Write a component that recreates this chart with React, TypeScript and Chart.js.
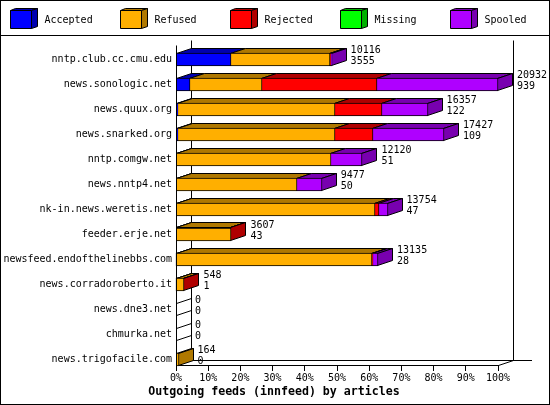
import { useEffect, useRef } from "react"
import { Chart, registerables, type Plugin } from "chart.js"

Chart.register(...registerables)

const feeds = [
  "nntp.club.cc.cmu.edu",
  "news.sonologic.net",
  "news.quux.org",
  "news.snarked.org",
  "nntp.comgw.net",
  "news.nntp4.net",
  "nk-in.news.weretis.net",
  "feeder.erje.net",
  "newsfeed.endofthelinebbs.com",
  "news.corradoroberto.it",
  "news.dne3.net",
  "chmurka.net",
  "news.trigofacile.com",
]

const accepted = [3555, 939, 122, 109, 51, 50, 47, 43, 28, 1, 0, 0, 0]
const refused = [6440, 4648, 10244, 10257, 10054, 7817, 12896, 3544, 12719, 527, 0, 0, 164]
const rejected = [61, 7487, 2998, 2410, 0, 0, 260, 20, 60, 20, 0, 0, 0]
const missing = [0, 0, 0, 0, 0, 0, 0, 0, 0, 0, 0, 0, 0]
const spooled = [60, 7858, 2993, 4651, 2015, 1610, 551, 0, 328, 0, 0, 0, 0]

const maxArticles = 20932
const percentTicks = [0, 10, 20, 30, 40, 50, 60, 70, 80, 90, 100]

const seriesNames = ["Accepted", "Refused", "Rejected", "Missing", "Spooled"]
const seriesValues = [accepted, refused, rejected, missing, spooled]
const frontColors = ["#0000ff", "#ffaf00", "#ff0000", "#00ff00", "#af00ff"]
const shadeColors = ["#0000af", "#af7800", "#af0000", "#00af00", "#7800af"]

const mono = "'DejaVu Sans Mono', monospace"
const depthX = 15
const depthY = 5
const rowShift = 7

function poly(ctx: CanvasRenderingContext2D, pts: number[][], fill?: string) {
  ctx.beginPath()
  pts.forEach(([x, y], i) => (i ? ctx.lineTo(x, y) : ctx.moveTo(x, y)))
  if (fill) {
    ctx.closePath()
    ctx.fillStyle = fill
    ctx.fill()
  }
  ctx.stroke()
}

const snap = (v: number) => Math.floor(v) + 0.5

// the long feed names need the whole left margin, chart.js clips them to the scale box
const widenLabels: Plugin<"bar"> = {
  id: "widenLabels",
  afterLayout(chart) {
    chart.scales.y.left = 0
  },
}

// the bars sit lower in their 25px row than a category band would put them,
// and the ends go on whole pixels so the black edges stay one pixel wide
const shiftBars: Plugin<"bar"> = {
  id: "shiftBars",
  afterDatasetsUpdate(chart) {
    chart.data.datasets.forEach((_, i) => {
      chart.getDatasetMeta(i).data.forEach((bar: any) => {
        bar.y += rowShift
        bar.x = Math.round(bar.x)
        bar.base = Math.round(bar.base)
      })
    })
  },
}

// back walls behind the bars
const walls: Plugin<"bar"> = {
  id: "walls",
  beforeDatasetsDraw(chart) {
    const { ctx, chartArea: a } = chart
    const left = snap(a.left)
    const right = snap(a.right)
    const top = snap(a.top)
    const bottom = snap(a.bottom)
    ctx.save()
    ctx.strokeStyle = "#000"
    ctx.lineWidth = 1
    poly(ctx, [[left, top + depthY], [left, bottom]])
    poly(ctx, [[left + depthX, top], [left + depthX, bottom - depthY]])
    poly(ctx, [[right + depthX, top], [right + depthX, bottom - depthY]])
    poly(ctx, [[left + depthX, bottom - depthY], [chart.width - 18, bottom - depthY]])
    poly(ctx, [[left, bottom], [left + depthX, bottom - depthY]])
    poly(ctx, [[right, bottom], [right + depthX, bottom - depthY]])
    ctx.restore()
  },
}

// top and side faces, worked out from each bar element the library placed
const faces: Plugin<"bar"> = {
  id: "faces",
  beforeDatasetsDraw(chart) {
    const { ctx, chartArea } = chart
    const scale = chart.scales.x
    const edge = (v: number) => Math.max(Math.round(scale.getPixelForValue(v)) - 0.5, snap(chartArea.left))
    ctx.save()
    ctx.strokeStyle = "#000"
    ctx.lineWidth = 1
    feeds.forEach((_, row) => {
      let last = -1
      seriesValues.forEach((values, s) => {
        if (values[row] > 0) last = s
      })
      const bar: any = chart.getDatasetMeta(0).data[row]
      const top = Math.floor(bar.y - bar.height / 2) + 0.5
      const bottom = Math.ceil(bar.y + bar.height / 2) - 0.5
      let start = 0
      seriesValues.forEach((values, s) => {
        const v = values[row]
        if (v <= 0) return
        const x1 = edge(start)
        const x2 = edge(start + v)
        poly(ctx, [[x1, top], [x1 + depthX, top - depthY], [x2 + depthX, top - depthY], [x2, top]], shadeColors[s])
        start += v
      })
      const end = edge(start)
      poly(
        ctx,
        [[end, top], [end + depthX, top - depthY], [end + depthX, bottom - depthY], [end, bottom]],
        last >= 0 ? shadeColors[last] : undefined,
      )
    })
    ctx.restore()
  },
  afterDatasetsDraw(chart) {
    const { ctx, chartArea } = chart
    const scale = chart.scales.x
    ctx.save()
    ctx.fillStyle = "#000"
    ctx.strokeStyle = "#000"
    ctx.lineWidth = 1
    ctx.font = `10px ${mono}`
    ctx.textAlign = "left"
    ctx.textBaseline = "middle"
    feeds.forEach((_, row) => {
      const total = seriesValues.reduce((sum, values) => sum + values[row], 0)
      const bar: any = chart.getDatasetMeta(0).data[row]
      // bars skip their left border, so the first one needs it put back
      const left = snap(chartArea.left)
      poly(ctx, [[left, bar.y - bar.height / 2], [left, bar.y + bar.height / 2]])
      const x = scale.getPixelForValue(total) + depthX + 4
      ctx.fillText(String(total), x, bar.y - 9.5)
      ctx.fillText(String(accepted[row]), x, bar.y + 1.5)
    })
    ctx.restore()
  },
}

// frame and the 3d legend strip across the top
const frame: Plugin<"bar"> = {
  id: "frame",
  afterDraw(chart) {
    const { ctx, width, height } = chart
    ctx.save()
    ctx.strokeStyle = "#000"
    ctx.lineWidth = 1
    ctx.strokeRect(0.5, 0.5, width - 1, height - 1)
    poly(ctx, [[0, 35.5], [width, 35.5]])
    seriesNames.forEach((name, s) => {
      const x = 10.5 + s * 110
      poly(ctx, [[x, 10.5], [x + 5, 8.5], [x + 27, 8.5], [x + 21, 10.5]], shadeColors[s])
      poly(ctx, [[x + 21, 10.5], [x + 27, 8.5], [x + 27, 26.5], [x + 21, 28.5]], shadeColors[s])
      poly(ctx, [[x, 10.5], [x + 21, 10.5], [x + 21, 28.5], [x, 28.5]], frontColors[s])
      ctx.fillStyle = "#000"
      ctx.font = `10px ${mono}`
      ctx.textAlign = "left"
      ctx.textBaseline = "middle"
      ctx.fillText(name, x + 34, 20)
    })
    ctx.restore()
  },
}

export default function App() {
  const canvasRef = useRef<HTMLCanvasElement>(null)

  useEffect(() => {
    if (!canvasRef.current) return
    document.body.style.margin = "0"
    document.body.style.background = "#fff"

    const chart = new Chart(canvasRef.current, {
      type: "bar",
      data: {
        labels: feeds,
        datasets: seriesNames.map((name, s) => ({
          label: name,
          data: seriesValues[s],
          backgroundColor: frontColors[s],
          borderColor: "#000",
          borderWidth: 1,
          borderSkipped: "left",
          barThickness: 13,
          clip: false as any,
        })),
      },
      options: {
        indexAxis: "y",
        animation: false,
        responsive: false,
        devicePixelRatio: 1,
        layout: { padding: { top: 40, right: 52, bottom: 0, left: 50 } },
        plugins: {
          legend: { display: false },
          tooltip: { enabled: false },
          title: {
            display: true,
            position: "bottom",
            text: "Outgoing feeds (innfeed) by articles",
            color: "#000",
            font: { family: mono, size: 11.6, weight: "bold", lineHeight: "15px" },
            padding: { top: 0, bottom: 6 },
          },
        },
        scales: {
          x: {
            stacked: true,
            min: 0,
            max: maxArticles,
            afterBuildTicks: (axis) => {
              axis.ticks = percentTicks.map((p) => ({ value: (p / 100) * maxArticles, label: `${p}%` }))
            },
            afterTickToLabelConversion: (axis) => {
              axis.ticks.forEach((t, i) => {
                t.label = `${percentTicks[i]}%`
              })
            },
            afterFit: (axis) => {
              axis.height = 19
            },
            ticks: {
              color: "#000",
              font: { family: mono, size: 10 },
              maxRotation: 0,
              autoSkip: false,
              padding: 1,
            },
            grid: { drawOnChartArea: false, drawTicks: true, tickLength: 6, color: "#000" },
            border: { color: "#000" },
          },
          y: {
            stacked: true,
            afterFit: (axis) => {
              axis.width = 126
            },
            ticks: {
              color: "#000",
              font: { family: mono, size: 10 },
              autoSkip: false,
              padding: 4,
              labelOffset: rowShift,
            },
            grid: { display: false, tickLength: 0 },
            border: { display: false },
          },
        },
      },
      plugins: [widenLabels, shiftBars, walls, faces, frame],
    })

    return () => chart.destroy()
  }, [])

  return <canvas ref={canvasRef} width={550} height={405} style={{ display: "block" }} />
}
